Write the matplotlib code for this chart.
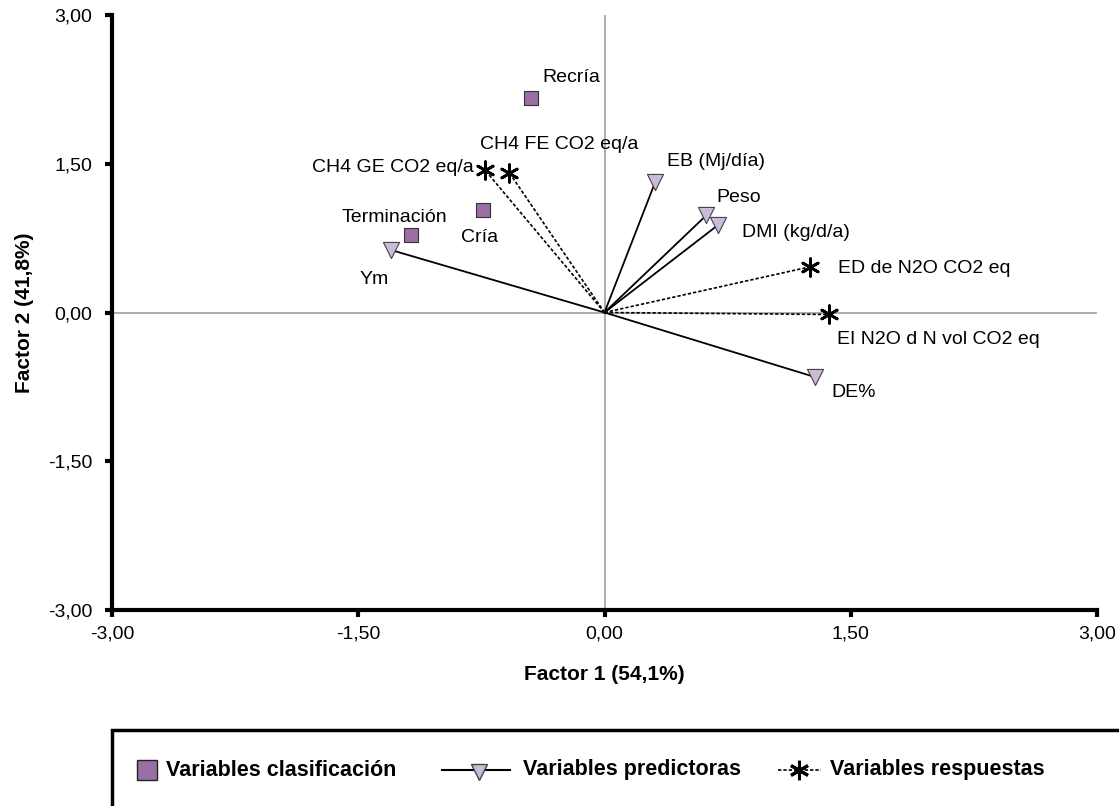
import matplotlib.pyplot as plt
import numpy as np
from matplotlib.patches import Rectangle
from matplotlib.lines import Line2D

plt.rcParams['font.family'] = ['Liberation Sans', 'DejaVu Sans']

# classification variables (squares)
clas_names = ['Recría', 'Cría', 'Terminación']
clas_x = [-0.45, -0.74, -1.18]
clas_y = [2.16, 1.03, 0.78]

# predictor variables (triangles, solid vectors)
pred_names = ['EB (Mj/día)', 'Peso', 'DMI (kg/d/a)', 'DE%', 'Ym']
pred_x = [0.31, 0.62, 0.69, 1.28, -1.30]
pred_y = [1.32, 0.98, 0.88, -0.65, 0.63]

# response variables (stars, dotted vectors)
resp_names = ['CH4 GE CO2 eq/a', 'CH4 FE CO2 eq/a', 'ED de N2O CO2 eq', 'EI N2O d N vol CO2 eq']
resp_x = [-0.73, -0.58, 1.25, 1.37]
resp_y = [1.44, 1.41, 0.46, -0.02]

ticks = [-3.0, -1.5, 0.0, 1.5, 3.0]

sq_color = '#9a6fa6'
tri_color = '#cbbad8'
star = (6, 2, 0)
dots = (0, (2, 1.2))

fig = plt.figure(figsize=(11.19, 8.06), dpi=100)
ax = fig.add_axes([112 / 1119, 1 - 610 / 806, (1097 - 112) / 1119, (610 - 15) / 806])

ax.axhline(0, color='#a0a0a0', lw=1.2, zorder=1)
ax.axvline(0, color='#a0a0a0', lw=1.2, zorder=1)

for x, y in zip(pred_x, pred_y):
    ax.plot([0, x], [0, y], color='black', lw=1.3, zorder=2)
for x, y in zip(resp_x, resp_y):
    ax.plot([0, x], [0, y], color='black', lw=1.2, ls=dots, zorder=2)

ax.scatter(clas_x, clas_y, marker='s', s=95, color=sq_color, edgecolor='#333333', lw=0.8, zorder=4)
ax.scatter(pred_x, pred_y, marker='v', s=135, color=tri_color, edgecolor='#444444', lw=0.8, zorder=4)
ax.scatter(resp_x, resp_y, marker=star, s=160, color='black', lw=2, zorder=4)

offsets = {
    'Recría': (12, 21, 'left'),
    'Cría': (-3, -27, 'center'),
    'Terminación': (-16, 18, 'center'),
    'EB (Mj/día)': (12, 20, 'left'),
    'Peso': (10, 18, 'left'),
    'DMI (kg/d/a)': (24, -7, 'left'),
    'DE%': (17, -16, 'left'),
    'Ym': (-17, -29, 'center'),
    'CH4 GE CO2 eq/a': (-11, 2, 'right'),
    'CH4 FE CO2 eq/a': (-29, 28, 'left'),
    'ED de N2O CO2 eq': (28, -2, 'left'),
    'EI N2O d N vol CO2 eq': (8, -25, 'left'),
}
for names, xs, ys in [(clas_names, clas_x, clas_y), (pred_names, pred_x, pred_y),
                      (resp_names, resp_x, resp_y)]:
    for n, x, y in zip(names, xs, ys):
        dx, dy, ha = offsets[n]
        ax.annotate(n, (x, y), xytext=(dx, dy), textcoords='offset pixels',
                    ha=ha, va='center', fontsize=14)

ax.set_xlim(-3, 3)
ax.set_ylim(-3, 3)
ax.set_xticks(ticks)
ax.set_yticks(ticks)
labels = [f'{t:.2f}'.replace('.', ',') for t in ticks]
ax.set_xticklabels(labels, fontsize=14)
ax.set_yticklabels(labels, fontsize=14)
ax.tick_params(direction='out', length=5, width=3)
ax.tick_params(axis='x', pad=6)
ax.tick_params(axis='y', pad=9)
for s in ['top', 'right']:
    ax.spines[s].set_visible(False)
for s in ['left', 'bottom']:
    ax.spines[s].set_linewidth(3)

ax.set_xlabel('Factor 1 (54,1%)', fontsize=15, fontweight='bold', labelpad=16)
ax.set_ylabel('Factor 2 (41,8%)', fontsize=15, fontweight='bold', labelpad=10)

# legend box, running off the figure edge
fig.patches.append(Rectangle((112 / 1119, -0.05), 1.0, 1 - 730 / 806 + 0.05,
                             transform=fig.transFigure, fill=False, lw=2.5,
                             edgecolor='black', clip_on=False))
ly = 1 - 770 / 806
fig.add_artist(Line2D([147 / 1119], [ly], marker='s', ms=14, color=sq_color,
                      markeredgecolor='#222222', mew=1, ls='none', transform=fig.transFigure))
fig.text(166 / 1119, ly, 'Variables clasificación', fontsize=15.5, fontweight='bold', va='center')
fig.add_artist(Line2D([442 / 1119, 510 / 1119], [ly, ly], color='black', lw=1.5,
                      transform=fig.transFigure))
fig.add_artist(Line2D([479 / 1119], [ly - 0.002], marker='v', ms=12, color=tri_color,
                      markeredgecolor='#444444', ls='none', transform=fig.transFigure))
fig.text(523 / 1119, ly, 'Variables predictoras', fontsize=15.5, fontweight='bold', va='center')
fig.add_artist(Line2D([778 / 1119, 821 / 1119], [ly, ly], color='black', lw=1.2,
                      ls=dots, transform=fig.transFigure))
fig.add_artist(Line2D([799 / 1119], [ly], marker=star, ms=14, color='black',
                      mew=2.2, ls='none', transform=fig.transFigure))
fig.text(830 / 1119, ly, 'Variables respuestas', fontsize=15.5, fontweight='bold', va='center')

fig.savefig('out.png', dpi=100)
